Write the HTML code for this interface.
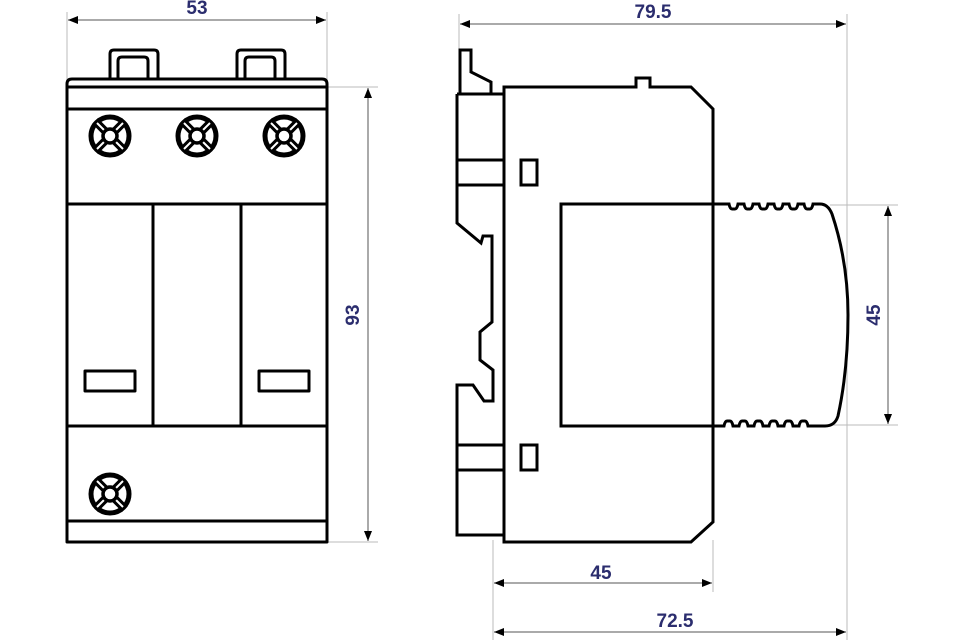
<!DOCTYPE html>
<html><head><style>body{margin:0;background:#fff}svg{display:block}</style></head><body>
<svg width="960" height="640" viewBox="0 0 960 640" xmlns="http://www.w3.org/2000/svg">
<defs>
<marker id="a" markerWidth="10" markerHeight="8" refX="10" refY="4" orient="auto-start-reverse" markerUnits="userSpaceOnUse"><path d="M0,0L10,4L0,8z" fill="#000"/></marker>
<g id="scr"><circle r="19" fill="#fff" stroke="#000" stroke-width="5"/>
<g stroke="#000" stroke-width="8" stroke-linecap="butt"><path d="M-5,-5L-15,-15M5,-5L15,-15M5,5L15,15M-5,5L-15,15"/></g>
<g stroke="#fff" stroke-width="2"><path d="M-6,-6L-13,-13M6,-6L13,-13M6,6L13,13M-6,6L-13,13"/></g>
<circle r="7" fill="#fff" stroke="#000" stroke-width="3.5"/></g>
</defs>
<g stroke="#bbb" stroke-width="1" fill="none">
<path d="M67,12V80M327,12V80M327,87H378M327,542H378M459,14V94M847,14V640M493,540V640M713,540V592M830,205H898M830,425H898"/>
</g>
<g stroke="#555" stroke-width="1" fill="none" marker-start="url(#a)" marker-end="url(#a)">
<path d="M68,20H326"/><path d="M368,88V541"/><path d="M460,24H846"/><path d="M888,206V424"/><path d="M494,583H712"/><path d="M494,632H846"/>
</g>
<g font-family="Liberation Sans, sans-serif" font-weight="bold" font-size="19" fill="#2b2d6e" text-anchor="middle">
<text x="197" y="14">53</text><text x="653" y="18">79.5</text>
<text x="601" y="579">45</text><text x="675" y="627">72.5</text>
<text transform="translate(359,315) rotate(-90)">93</text>
<text transform="translate(880,315) rotate(-90)">45</text>
</g>
<g fill="none" stroke="#000" stroke-width="3" stroke-linejoin="round">
<path d="M110,79V54Q110,50 114,50H154Q158,50 158,54V79"/><path d="M118,79V61Q118,57 122,57H144Q148,57 148,61V79"/>
<path d="M237,79V54Q237,50 241,50H281Q285,50 285,54V79"/><path d="M245,79V61Q245,57 249,57H271Q275,57 275,61V79"/>
<path d="M67,87V84Q67,79 72,79H322Q327,79 327,84V87"/>
<rect x="67" y="87" width="260" height="455"/>
<path d="M67,109H327M67,204H327M67,426H327M67,521H327M153,204V426M241,204V426"/>
<rect x="85" y="371" width="50" height="20"/><rect x="259" y="371" width="50" height="20"/>
</g>
<use href="#scr" x="110" y="136"/><use href="#scr" x="197" y="136"/><use href="#scr" x="284" y="136"/><use href="#scr" x="110" y="494"/>
<g fill="none" stroke="#000" stroke-width="3" stroke-linejoin="miter">
<path d="M504,542V87H636V78H650V87H691L713,109V522L691,542Z"/>
<path d="M460,94V50H471V72L491,82V94"/>
<path d="M457,94H504M457,94V223L481,243L483,236H492V322L480,332V360L493,370V401H484L473,385H457V535H504"/>
<path d="M457,160H504M457,185H504M457,445H504M457,470H504"/>
<rect x="521" y="160" width="16" height="25"/><rect x="521" y="445" width="16" height="25"/>
<path d="M713,204H561V426H713" />
<path d="M713,204H729q1,5 3,5h3q2,0 3,-5h6q1,5 3,5h3q2,0 3,-5h6q1,5 3,5h3q2,0 3,-5h6q1,5 3,5h3q2,0 3,-5h6q1,5 3,5h3q2,0 3,-5h6q1,5 3,5h3q2,0 3,-5H820Q828,204 832,214Q848,262 848,315Q848,370 838,416Q835,426 825,426H808q-1,-5 -3,-5h-3q-2,0 -3,5h-6q-1,-5 -3,-5h-3q-2,0 -3,5h-6q-1,-5 -3,-5h-3q-2,0 -3,5h-6q-1,-5 -3,-5h-3q-2,0 -3,5h-6q-1,-5 -3,-5h-3q-2,0 -3,5h-6q-1,-5 -3,-5h-3q-2,0 -3,5H713"/>
</g>
</svg>
</body></html>
